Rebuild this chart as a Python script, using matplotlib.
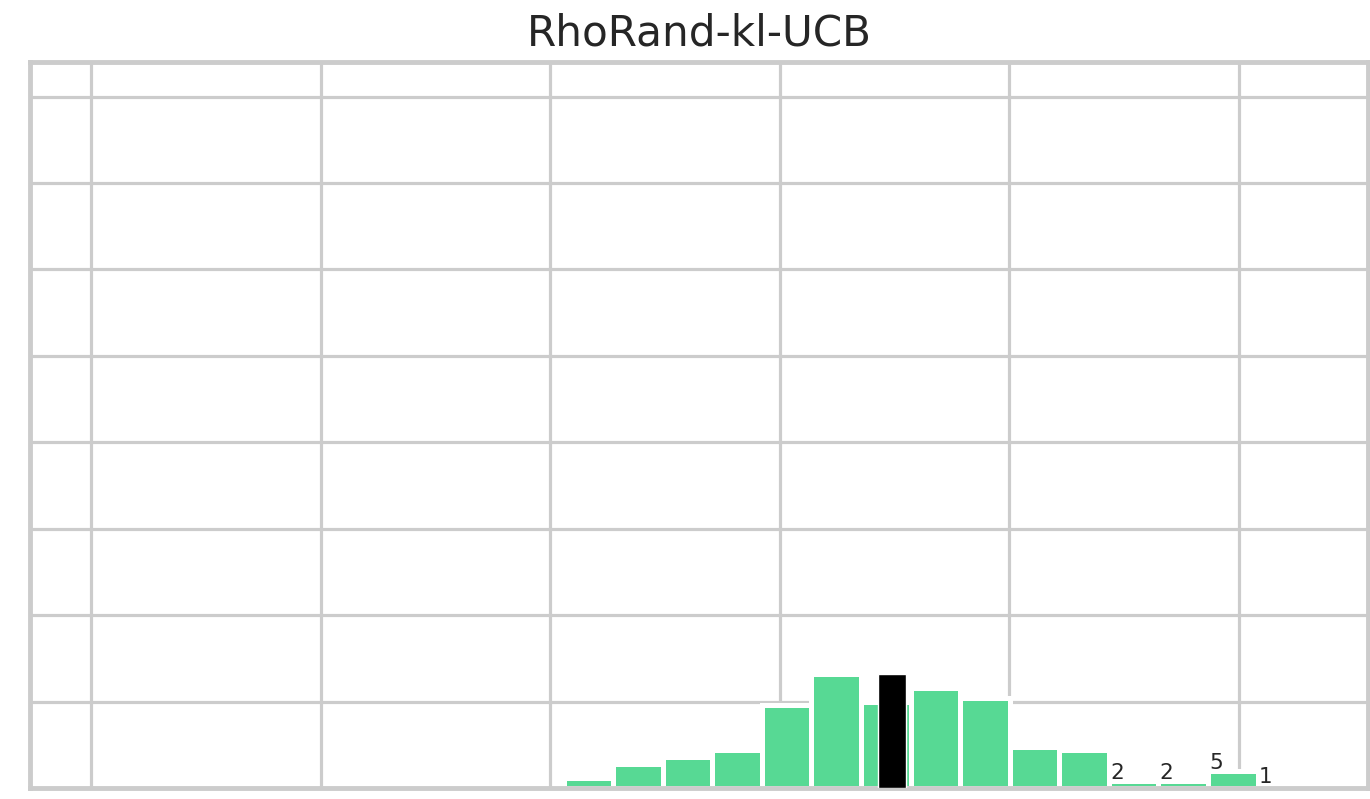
import matplotlib
matplotlib.use("Agg")
import matplotlib.pyplot as plt
import seaborn as sns

sns.set_style("whitegrid")

# histogram counts (15 bins)
bin_start = 2.059
bin_width = 0.216
counts = [3, 7, 9, 11, 24, 33, 25, 29, 26, 12, 11, 2, 2, 5, 1]
labelled = [11, 12, 13, 14]  # bins with a count label

# highlighted bar
mark_x = 3.49
mark_width = 0.118
mark_height = 33

x_ticks = [0, 1, 2, 3, 4, 5]
y_ticks = [0, 25, 50, 75, 100, 125, 150, 175, 200]

fig = plt.figure(figsize=(13.7, 7.99), dpi=100)
ax = fig.add_axes([30 / 1370, 1 - 788 / 799, (1368 - 30) / 1370, (788 - 62) / 799])

lefts = [bin_start + i * bin_width for i in range(len(counts))]
ax.bar(lefts, counts, width=bin_width, align='edge', color='#57d994',
       edgecolor='white', linewidth=3.6, zorder=2)
ax.bar(mark_x, mark_height, width=mark_width, color='black', zorder=3)

for i in labelled:
    ax.text(lefts[i] + 0.005, counts[i] - 0.6, str(counts[i]), fontsize=15.5,
            color='#262626', ha='left', va='bottom', zorder=4)

ax.set_xlim(-0.266, 5.564)
ax.set_ylim(0, 210)
ax.set_xticks(x_ticks)
ax.set_yticks(y_ticks)
ax.set_xticklabels([])
ax.set_yticklabels([])
ax.tick_params(length=0)
ax.grid(True, color='#cccccc', linewidth=2.3)
ax.set_axisbelow(True)
for s in ax.spines.values():
    s.set_color('#cccccc')
    s.set_linewidth(3.5)

ax.set_title('RhoRand-kl-UCB', fontsize=30.3, color='#262626', pad=12)

plt.savefig('out.png', dpi=100)
